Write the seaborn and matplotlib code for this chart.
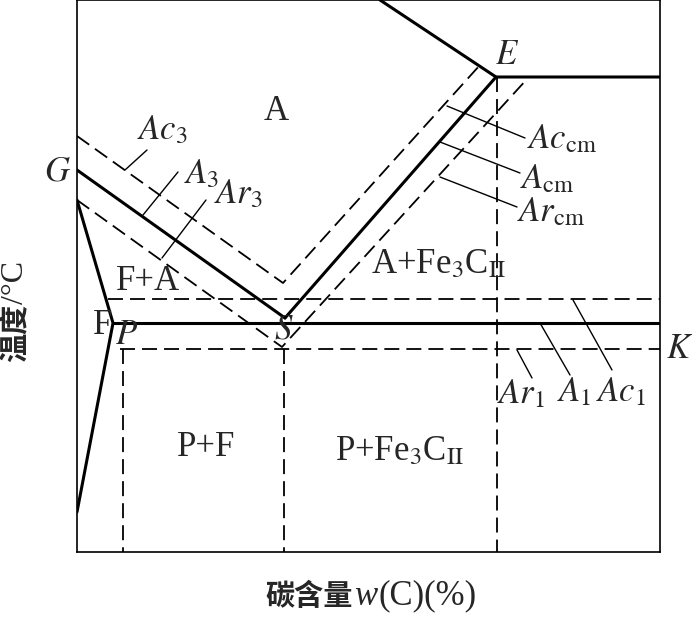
import matplotlib.pyplot as plt
import seaborn as sns
from matplotlib.offsetbox import TextArea, HPacker, AnchoredOffsetbox

# schematic Fe-C diagram, coordinates in arbitrary units
# (carbon axis 0..583, temperature axis 0..552)
gs_x = [0, 208]
gs_y = [382, 234]
se_x = [208, 419]
se_y = [234, 475]
top_x = [303, 419, 583]
top_y = [552, 475, 475]
psk_x = [36, 583]
psk_y = [229, 229]
gpq_x = [0, 36, 0]
gpq_y = [352, 229, 40]

ac_x = [0, 206, 403]      # Ac3 / Accm
ac_y = [416, 269, 487]
ar_x = [0, 205, 451]      # Ar3 / Arcm
ar_y = [352, 205, 474]
ac1_x = [31, 583]
ac1_y = [253, 253]
ar1_x = [43, 583]
ar1_y = [203, 203]
v_x = [46, 207, 420]
v_top = [203, 203, 475]

# leader lines: (x0, y0, x1, y1)
leaders = [
    (48, 382, 70, 402),
    (66, 337, 101, 380),
    (85, 294, 129, 352),
    (370, 446, 448, 414),
    (363, 410, 443, 379),
    (363, 375, 440, 345),
    (440, 202, 455, 174),
    (463, 229, 493, 177),
    (496, 252, 535, 182),
]

sns.set_style('white')
plt.rcParams['font.family'] = ['Liberation Serif', 'Noto Sans CJK SC']
plt.rcParams['mathtext.fontset'] = 'stix'

fig = plt.figure(figsize=(6.93, 6.17), dpi=100)
ax = fig.add_axes([77 / 693, 65 / 617, 583 / 693, 552 / 617])

dash = (0, (8.3, 3.9))


def seg(xs, ys, lw, ls='-'):
    sns.lineplot(x=xs, y=ys, ax=ax, color='black', lw=lw, linestyle=ls,
                 sort=False, estimator=None, legend=False)


seg(gs_x, gs_y, 2.2)
seg(se_x, se_y, 2.2)
seg(top_x, top_y, 2.2)
seg(psk_x, psk_y, 2.2)
seg(gpq_x, gpq_y, 2.2)
seg(ac_x, ac_y, 1.3, dash)
seg(ar_x, ar_y, 1.3, dash)
seg(ac1_x, ac1_y, 1.3, dash)
seg(ar1_x, ar1_y, 1.3, dash)
for xv, yt in zip(v_x, v_top):
    seg([xv, xv], [yt, 0], 1.3, dash)
for x0, y0, x1, y1 in leaders:
    seg([x0, x1], [y0, y1], 1.0)

fs = 25
ax.text(199, 440, 'A', fontsize=fs, ha='center', va='center')
ax.text(71, 270, 'F+A', fontsize=fs, ha='center', va='center')
ax.text(26, 226, 'F', fontsize=fs, ha='center', va='center')
ax.text(129, 104, 'P+F', fontsize=fs, ha='center', va='center')
ax.text(362, 287, r'A+Fe$_3$C$_{\rm II}$', fontsize=fs, ha='center', va='center')
ax.text(323, 100, r'P+Fe$_3$C$_{\rm II}$', fontsize=fs, ha='center', va='center')

ax.text(430, 497, '$E$', fontsize=fs, ha='center', va='center')
ax.text(-19, 380, '$G$', fontsize=fs, ha='center', va='center', clip_on=False)
ax.text(50, 216, '$P$', fontsize=fs, ha='center', va='center')
ax.text(207, 222, '$S$', fontsize=fs, ha='center', va='center')
ax.text(603, 203, '$K$', fontsize=fs, ha='center', va='center', clip_on=False)

ax.text(60, 421, '$Ac_3$', fontsize=fs, ha='left', va='center')
ax.text(107, 377, '$A_3$', fontsize=fs, ha='left', va='center')
ax.text(137, 357, '$Ar_3$', fontsize=fs, ha='left', va='center')
ax.text(450, 412, r'$Ac_{\rm cm}$', fontsize=fs, ha='left', va='center')
ax.text(443, 372, r'$A_{\rm cm}$', fontsize=fs, ha='left', va='center')
ax.text(440, 339, r'$Ar_{\rm cm}$', fontsize=fs, ha='left', va='center')
ax.text(420, 157, '$Ar_1$', fontsize=fs, ha='left', va='center')
ax.text(480, 159, '$A_1$', fontsize=fs, ha='left', va='center')
ax.text(519, 159, '$Ac_1$', fontsize=fs, ha='left', va='center')

ax.set_xlim(0, 583)
ax.set_ylim(0, 552)
ax.set_xticks([])
ax.set_yticks([])
for sp in ax.spines.values():
    sp.set_color('black')
    sp.set_linewidth(1.2)

# x label: CJK + italic w, packed on one baseline
cjk_fs = 21
lat_fs = 25
parts = [
    TextArea('碳含量', textprops=dict(fontsize=cjk_fs, fontweight='bold')),
    TextArea('w', textprops=dict(fontsize=lat_fs, style='italic')),
    TextArea('(C)(%)', textprops=dict(fontsize=lat_fs)),
]
box = HPacker(children=parts, align='baseline', pad=0, sep=1)
xlab = AnchoredOffsetbox(loc='upper center', child=box, frameon=False, pad=0,
                         bbox_to_anchor=(0.505, -0.05), bbox_transform=ax.transAxes,
                         borderpad=0)
ax.add_artist(xlab)

# y label: bold CJK part, regular unit part
ylab1 = ax.text(-0.08, 0.344, '温度', transform=ax.transAxes, fontsize=cjk_fs,
                fontweight='bold', rotation=90, ha='right', va='bottom')
ax.annotate('/°C', xy=(1, 1), xycoords=ylab1, fontsize=lat_fs - 2,
            rotation=90, ha='right', va='bottom')

fig.savefig('out.png', dpi=100)
